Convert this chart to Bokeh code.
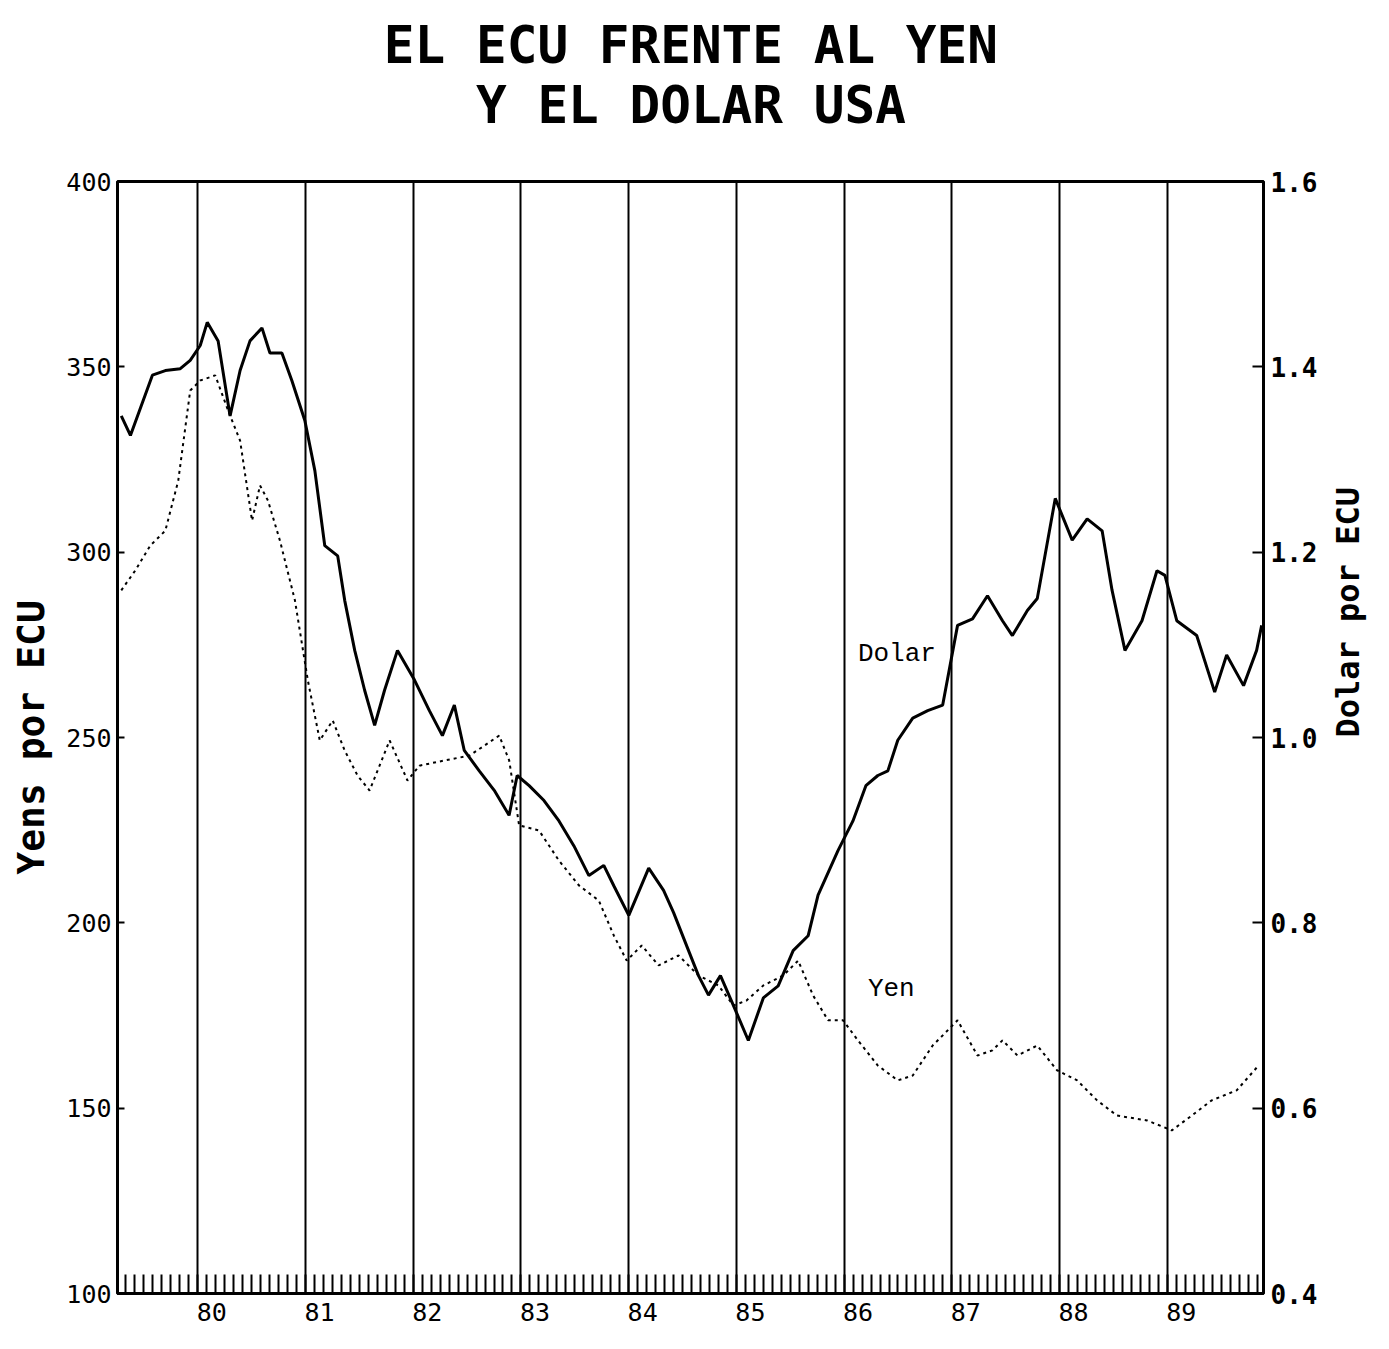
import math
from bokeh.plotting import figure
from bokeh.layouts import column
from bokeh.models import (Range1d, LinearAxis, FixedTicker, Label,
                          CustomJSTickFormatter, PrintfTickFormatter)
from bokeh.embed import file_html
from bokeh.resources import INLINE

# ---------------- data ----------------
dolar_t = [1979.29, 1979.375, 1979.579, 1979.699, 1979.838, 1979.930, 1980.023, 1980.088,
           1980.189, 1980.300, 1980.393, 1980.485, 1980.596, 1980.670, 1980.781, 1980.874,
           1980.994, 1981.087, 1981.179, 1981.299, 1981.364, 1981.457, 1981.549, 1981.642,
           1981.734, 1981.854, 1982.012, 1982.150, 1982.271, 1982.382, 1982.474, 1982.613,
           1982.752, 1982.890, 1982.965, 1983.076, 1983.214, 1983.353, 1983.492, 1983.631,
           1983.769, 1983.862, 1984.001, 1984.186, 1984.324, 1984.417, 1984.556, 1984.648,
           1984.741, 1984.852, 1984.972, 1985.111, 1985.250, 1985.388, 1985.527, 1985.666,
           1985.758, 1985.943, 1986.082, 1986.202, 1986.313, 1986.406, 1986.498, 1986.637,
           1986.776, 1986.915, 1987.053, 1987.192, 1987.331, 1987.470, 1987.562, 1987.701,
           1987.793, 1987.960, 1988.117, 1988.256, 1988.395, 1988.487, 1988.607, 1988.765,
           1988.904, 1988.978, 1989.088, 1989.273, 1989.440, 1989.551, 1989.708, 1989.829,
           1989.876]
dolar_v = [1.347, 1.326, 1.391, 1.396, 1.398, 1.407, 1.423, 1.448,
           1.428, 1.347, 1.396, 1.428, 1.442, 1.415, 1.415, 1.385,
           1.342, 1.288, 1.207, 1.196, 1.148, 1.094, 1.051, 1.013,
           1.051, 1.094, 1.062, 1.029, 1.002, 1.035, 0.986, 0.964,
           0.943, 0.916, 0.959, 0.948, 0.932, 0.910, 0.883, 0.851,
           0.862, 0.840, 0.808, 0.859, 0.835, 0.811, 0.770, 0.743,
           0.722, 0.743, 0.711, 0.673, 0.719, 0.732, 0.770, 0.786,
           0.830, 0.878, 0.910, 0.948, 0.959, 0.964, 0.997, 1.021,
           1.029, 1.035, 1.121, 1.128, 1.153, 1.126, 1.110, 1.137,
           1.150, 1.258, 1.213, 1.236, 1.223, 1.159, 1.094, 1.126,
           1.180, 1.175, 1.126, 1.110, 1.049, 1.089, 1.056, 1.094,
           1.121]

yen_t = [1979.29, 1979.421, 1979.560, 1979.699, 1979.819, 1979.930, 1980.023, 1980.162,
         1980.282, 1980.393, 1980.504, 1980.578, 1980.652, 1980.763, 1980.902, 1981.022,
         1981.133, 1981.253, 1981.364, 1981.484, 1981.595, 1981.707, 1981.781, 1981.947,
         1982.058, 1982.289, 1982.521, 1982.798, 1982.891, 1982.983, 1983.168, 1983.353,
         1983.538, 1983.723, 1983.862, 1983.982, 1984.121, 1984.278, 1984.463, 1984.648,
         1984.833, 1984.972, 1985.092, 1985.250, 1985.435, 1985.573, 1985.712, 1985.851,
         1985.990, 1986.128, 1986.313, 1986.498, 1986.637, 1986.822, 1987.053, 1987.238,
         1987.377, 1987.470, 1987.609, 1987.793, 1987.977, 1988.163, 1988.348, 1988.533,
         1988.811, 1989.042, 1989.227, 1989.412, 1989.644, 1989.847]
yen_v = [289.7, 295.1, 301.8, 305.8, 319.3, 343.6, 346.3, 347.7,
         338.2, 330.1, 308.5, 318.0, 313.9, 303.1, 287.0, 265.4,
         249.2, 254.6, 246.5, 239.7, 235.7, 243.8, 249.2, 238.4,
         242.4, 243.8, 245.1, 250.5, 243.8, 226.3, 224.9, 216.8,
         210.1, 206.0, 196.6, 189.8, 193.9, 188.5, 191.2, 185.8,
         183.1, 177.7, 179.0, 183.1, 185.8, 189.8, 180.4, 173.7,
         173.7, 168.3, 161.5, 157.5, 158.8, 166.9, 173.7, 164.2,
         165.6, 168.3, 164.2, 166.9, 160.2, 157.5, 152.1, 148.0,
         146.7, 144.0, 148.0, 152.1, 154.8, 161.5]

years = [1980, 1981, 1982, 1983, 1984, 1985, 1986, 1987, 1988, 1989]
yen_ticks = [100, 150, 200, 250, 300, 350, 400]
usd_ticks = [0.4, 0.6, 0.8, 1.0, 1.2, 1.4, 1.6]
title_lines = ["EL ECU FRENTE AL YEN", "Y EL DOLAR USA"]
left_label = "Yens por ECU"
right_label = "Dolar por ECU"

# ---------------- layout ----------------
W = 1389
HT = 150                      # title strip height
H = 1195                      # main chart height
ML, MR, MT, MB = 117, 122, 31, 52
X0, X1 = 1979.255, 1989.893
Y0, Y1 = 100, 400
fw, fh = W - ML - MR, H - MT - MB

mono = "DejaVu Sans Mono"

# ---- title strip (pixel coordinates, y downwards) ----
tf = figure(width=W, height=HT, x_range=Range1d(0, W), y_range=Range1d(HT, 0),
            output_backend="svg", toolbar_location=None,
            min_border_left=0, min_border_right=0, min_border_top=0, min_border_bottom=0)
tf.axis.visible = False
tf.grid.visible = False
tf.outline_line_color = None
tf.background_fill_color = "white"
tf.border_fill_color = "white"
for txt, yc in zip(title_lines, [45, 105]):
    tf.add_layout(Label(x=695, y=yc, text=txt, text_font=mono, text_font_style="bold",
                        text_font_size="51px", text_color="black",
                        text_align="center", text_baseline="middle"))

# ---- main chart ----
def px(xp, yp):
    """page pixel (from top-left of page) -> data coords of the main chart"""
    x = X0 + (xp - ML) * (X1 - X0) / fw
    y = Y1 - (yp - HT - MT) * (Y1 - Y0) / fh
    return x, y

p = figure(width=W, height=H, x_range=Range1d(X0, X1), y_range=Range1d(Y0, Y1),
           output_backend="svg", toolbar_location=None,
           min_border_left=ML, min_border_right=MR, min_border_top=MT, min_border_bottom=MB)
p.extra_y_ranges = {"usd": Range1d(0.4, 1.6)}
p.background_fill_color = "white"
p.border_fill_color = "white"
p.outline_line_color = "black"
p.outline_line_width = 3

# grid: vertical year lines only
p.ygrid.grid_line_color = None
p.xgrid.ticker = FixedTicker(ticks=years)
p.xgrid.grid_line_color = "black"
p.xgrid.grid_line_width = 2
p.xgrid.grid_line_alpha = 1

# bottom axis: labels just right of year lines, monthly minor ticks inside
months = [y + m / 12 for y in range(1979, 1990) for m in range(12) if X0 < y + m / 12 < X1]
xa = p.xaxis[0]
xa.ticker = FixedTicker(ticks=[y + 0.13 for y in years], minor_ticks=months)
xa.formatter = CustomJSTickFormatter(code="return String(Math.floor(tick)).slice(2);")
xa.major_tick_in = 0
xa.major_tick_out = 0
xa.minor_tick_in = 19
xa.minor_tick_out = 0
xa.minor_tick_line_width = 2
xa.minor_tick_line_color = "black"
xa.axis_line_width = 3
xa.axis_line_color = "black"
xa.major_label_text_font = mono
xa.major_label_text_font_size = "25px"
xa.major_label_text_color = "black"
xa.major_label_standoff = 9

# left axis
ya = p.yaxis[0]
ya.ticker = FixedTicker(ticks=yen_ticks)
ya.major_tick_in = 7
ya.major_tick_out = 0
ya.major_tick_line_width = 2
ya.minor_tick_line_color = None
ya.axis_line_width = 2
ya.major_label_text_font = mono
ya.major_label_text_font_size = "25px"
ya.major_label_text_color = "black"
ya.major_label_standoff = 6
ya.axis_label = left_label
ya.axis_label_text_font = mono
ya.axis_label_text_font_style = "bold"
ya.axis_label_text_font_size = "38px"
ya.axis_label_text_color = "black"
ya.axis_label_standoff = 10

# right axis
ra = LinearAxis(y_range_name="usd", ticker=FixedTicker(ticks=usd_ticks),
                formatter=PrintfTickFormatter(format="%.1f"))
ra.major_tick_in = 11
ra.major_tick_out = 0
ra.major_tick_line_width = 2
ra.minor_tick_line_color = None
ra.axis_line_width = 2
ra.major_label_text_font = mono
ra.major_label_text_font_style = "bold"
ra.major_label_text_font_size = "26px"
ra.major_label_text_color = "black"
ra.major_label_standoff = 7
ra.axis_label = right_label
ra.axis_label_text_font = mono
ra.axis_label_text_font_style = "bold"
ra.axis_label_text_font_size = "32px"
ra.axis_label_text_color = "black"
ra.axis_label_standoff = 28
try:
    ra.axis_label_orientation = math.pi / 2
except Exception:
    pass
p.add_layout(ra, "right")

# series
p.line(yen_t, yen_v, line_color="black", line_width=2, line_dash="3 4")
p.line(dolar_t, dolar_v, line_color="black", line_width=3, y_range_name="usd")

# series labels
lx, ly = px(860, 653)
p.add_layout(Label(x=lx, y=ly, text="Dolar", text_font="Liberation Mono", text_font_size="26px",
                   text_color="black", text_align="left", text_baseline="middle"))
lx, ly = px(870, 988)
p.add_layout(Label(x=lx, y=ly, text="Yen", text_font="Liberation Mono", text_font_size="26px",
                   text_color="black", text_align="left", text_baseline="middle"))

layout = column(tf, p, spacing=0)
open("out.html", "w").write(file_html(layout, INLINE))
